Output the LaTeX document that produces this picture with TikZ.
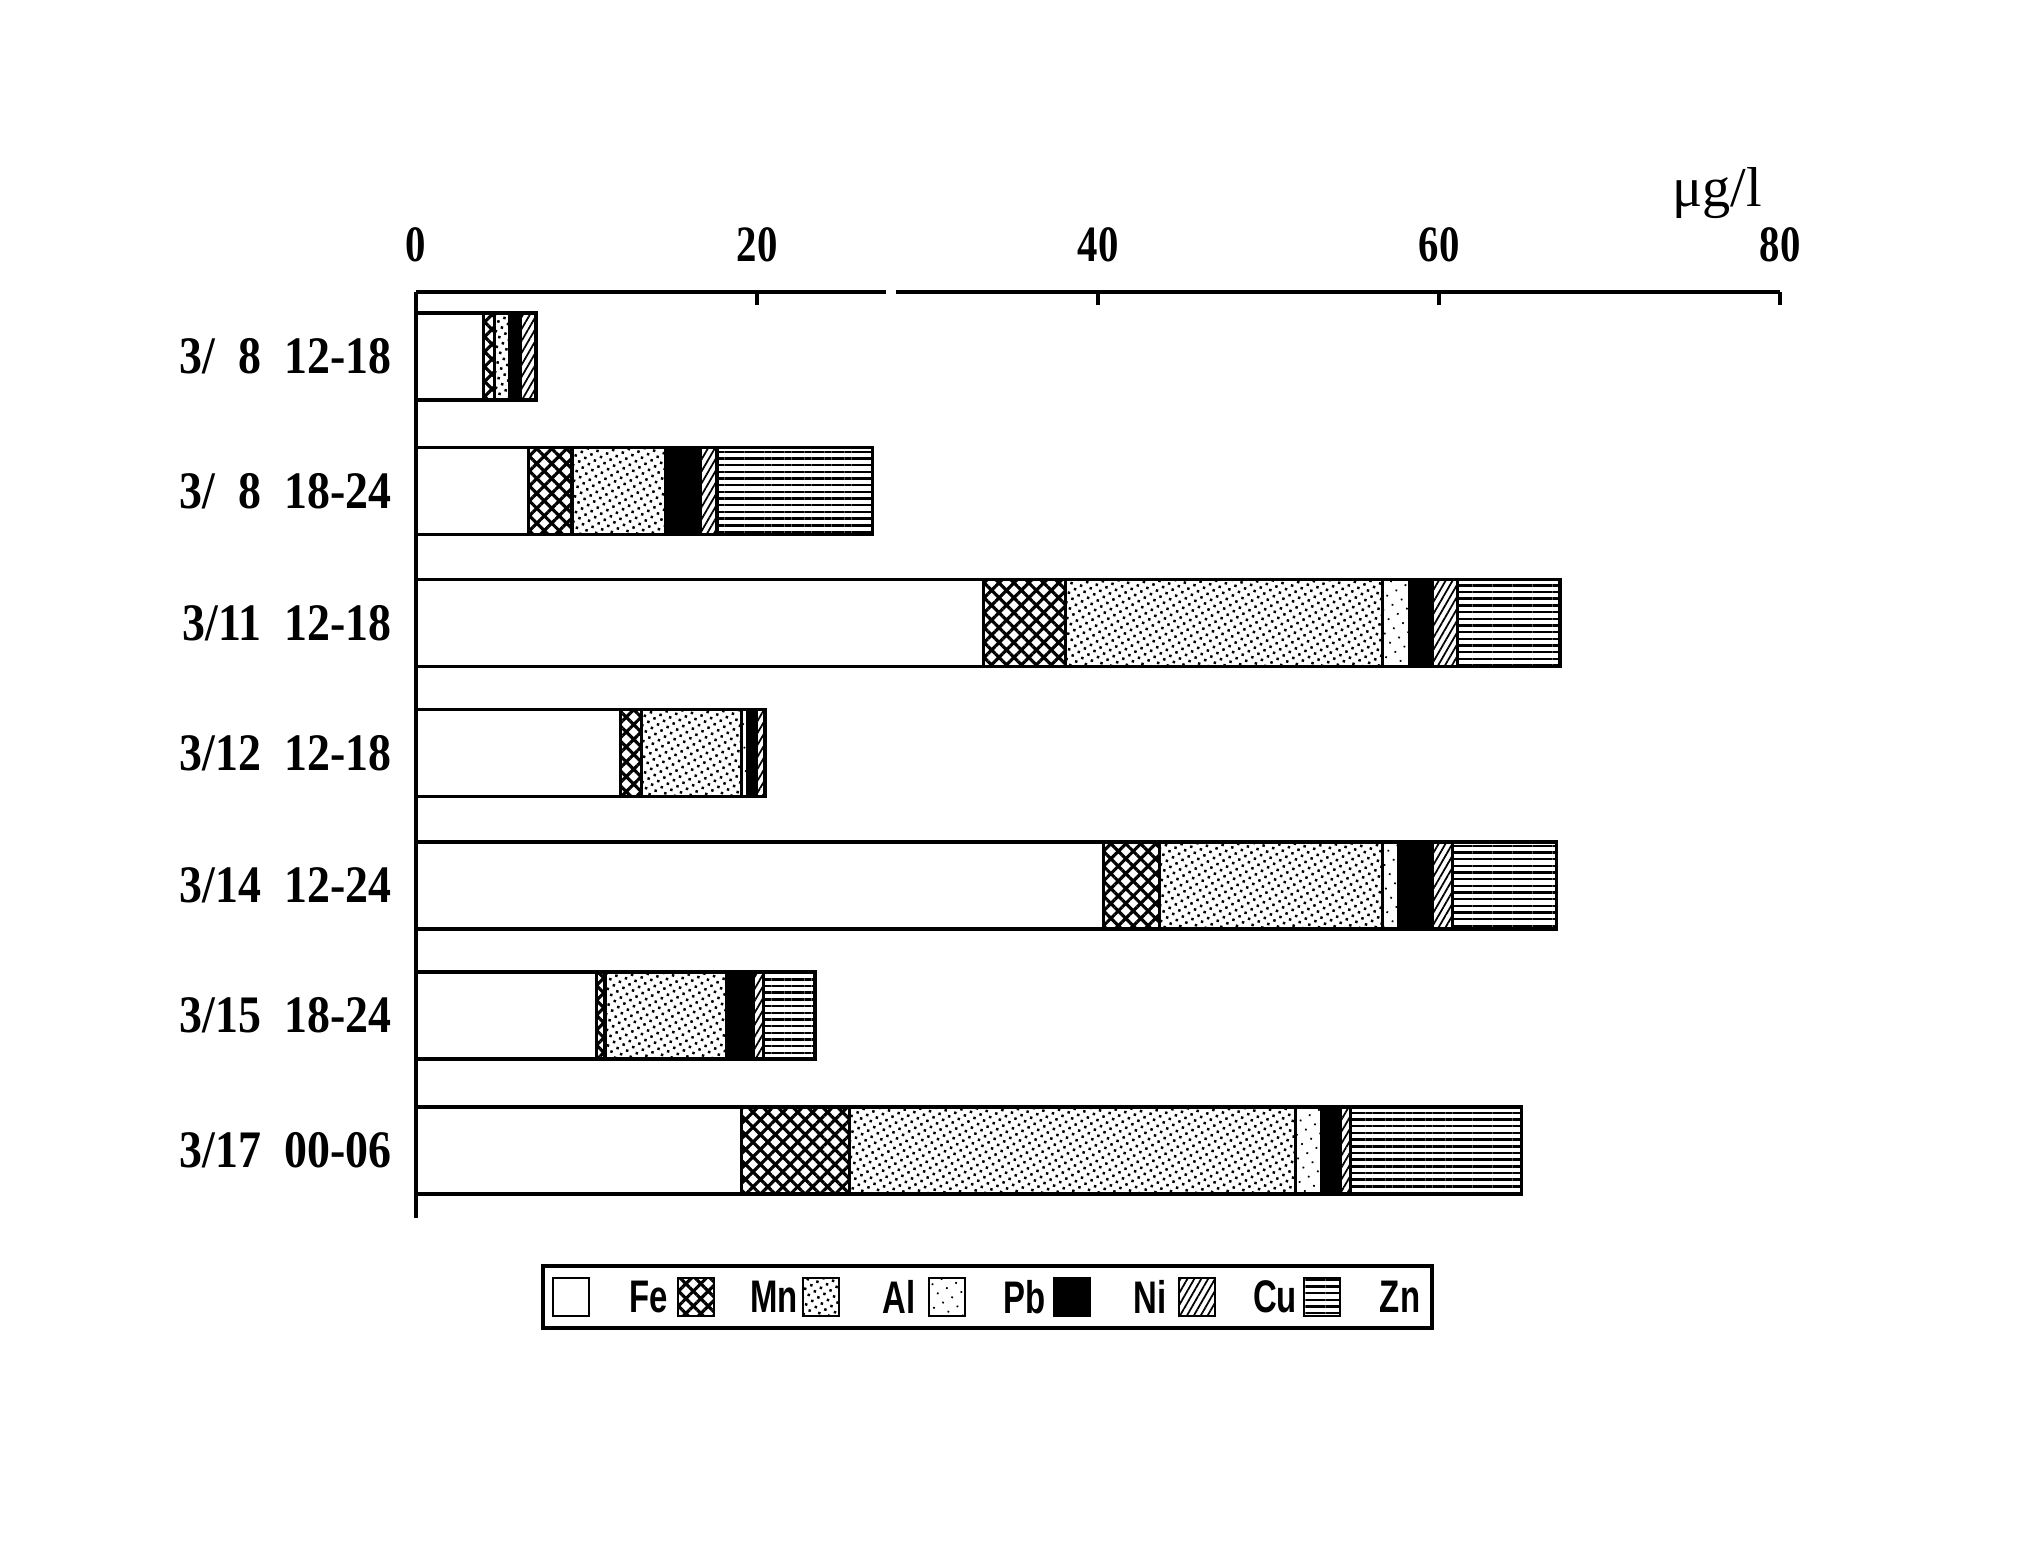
\documentclass[tikz,border=0pt]{standalone}
\usepackage{fontspec}
\usepackage{graphicx}
\setmainfont{Liberation Serif}
\newfontfamily\legendfont{Liberation Sans}
\usetikzlibrary{patterns.meta}
\def\condtext#1{\scalebox{0.8}[1]{#1}}
\def\rowtext#1{\scalebox{0.87}[1]{#1}}
\def\cell{\hspace{0.5em}}
\def\stackbar(#1)(#2,#3,#4,#5,#6,#7,#8){%
	\draw[fe] (0,#1-0.435) rectangle (#2,#1+0.435);
	\draw[mn] (#2,#1-0.435) rectangle (#3,#1+0.435);
	\draw[al] (#3,#1-0.435) rectangle (#4,#1+0.435);
	\draw[pb] (#4,#1-0.435) rectangle (#5,#1+0.435);
	\draw[ni] (#5,#1-0.435) rectangle (#6,#1+0.435);
	\draw[cu] (#6,#1-0.435) rectangle (#7,#1+0.435);
	\draw[zn] (#7,#1-0.435) rectangle (#8,#1+0.435);}
\tikzset{
	fe/.style={draw=black, line width=0.9pt, fill=white},
	mn/.style={draw=black, line width=0.9pt, pattern={Hatch[angle=45,distance=3pt,line width=0.9pt]}},
	al/.style={draw=black, line width=0.9pt, pattern={Dots[angle=30,distance=2pt,radius=0.5pt]}},
	pb/.style={draw=black, line width=0.9pt, pattern={Dots[angle=30,distance=3pt,radius=0.35pt]}},
	ni/.style={draw=black, line width=0.9pt, fill=black},
	cu/.style={draw=black, line width=0.9pt, pattern={Lines[angle=60,distance=1.7pt,line width=0.5pt]}},
	zn/.style={draw=black, line width=0.9pt, pattern={Lines[angle=0,distance=1.9pt,line width=0.7pt]}},
	axisline/.style={line width=1.1pt},
	ticklabel/.style={inner sep=0pt, font=\fontsize{14.5}{17}\selectfont\bfseries},
	rowlabel/.style={inner sep=0pt, anchor=east, font=\fontsize{15}{18}\selectfont\bfseries},
	keylabel/.style={inner sep=0pt, font=\fontsize{13}{15}\selectfont\legendfont\bfseries}
}

\begin{document}
\begin{tikzpicture}
		%%%%% START %%%%%
		\useasboundingbox (0,0) rectangle (20.43,15.67);
		
		\begin{scope}[shift={(4.16,0)}, x=0.1705cm]
			\draw[axisline] (0,12.75) -- (27.57,12.75);
			\draw[axisline] (28.15,12.75) -- (80,12.75);
			\draw[axisline] (0,12.75) -- (0,3.49);
			\draw[axisline] (20,12.75) -- (20,12.62);
			\draw[axisline] (40,12.75) -- (40,12.62);
			\draw[axisline] (60,12.75) -- (60,12.62);
			\draw[axisline] (80,12.75) -- (80,12.62);
			
			\node[ticklabel] (t0) at (0,13.22) {\condtext{0}};
			\node[ticklabel] (t20) at (20,13.22) {\condtext{20}};
			\node[ticklabel] (t40) at (40,13.22) {\condtext{40}};
			\node[ticklabel] (t60) at (60,13.22) {\condtext{60}};
			\node[ticklabel] (t80) at (80,13.22) {\condtext{80}};
			
			\stackbar(12.105)(3.95,4.59,5.51,5.51,6.14,7.04,7.04)
			\stackbar(10.76)(6.6,9.15,14.65,14.8,16.7,17.65,26.75)
			\stackbar(9.44)(33.3,38.1,56.7,58.3,59.6,61.1,67.1)
			\stackbar(8.14)(12.0,13.24,19.1,19.45,19.95,20.47,20.47)
			\stackbar(6.815)(40.3,43.6,56.7,57.65,59.6,60.8,66.9)
			\stackbar(5.515)(10.6,11.08,18.2,18.4,19.8,20.4,23.4)
			\stackbar(4.165)(19.08,25.4,51.6,53.1,54.2,54.8,64.85)
		\end{scope}
		
		\node[font=\fontsize{16}{19}\selectfont] (unit) at (17.17,13.74) {μg/l};
		
		\node[rowlabel] (d1) at (3.92,12.105) {\rowtext{3/\cell8\cell12-18}};
		\node[rowlabel] (d2) at (3.92,10.76) {\rowtext{3/\cell8\cell18-24}};
		\node[rowlabel] (d3) at (3.92,9.44) {\rowtext{3/11\cell12-18}};
		\node[rowlabel] (d4) at (3.92,8.14) {\rowtext{3/12\cell12-18}};
		\node[rowlabel] (d5) at (3.92,6.815) {\rowtext{3/14\cell12-24}};
		\node[rowlabel] (d6) at (3.92,5.515) {\rowtext{3/15\cell18-24}};
		\node[rowlabel] (d7) at (3.92,4.165) {\rowtext{3/17\cell00-06}};
		
		% legend
		\draw[line width=0.9pt] (5.43,2.39) rectangle (14.32,3.01);
		\draw[fe, line width=0.7pt] (5.53,2.51) rectangle (5.89,2.89);
		\draw[mn, line width=0.7pt] (6.78,2.51) rectangle (7.14,2.89);
		\draw[al, line width=0.7pt] (8.03,2.51) rectangle (8.39,2.89);
		\draw[pb, line width=0.7pt] (9.29,2.51) rectangle (9.65,2.89);
		\draw[ni, line width=0.7pt] (10.54,2.51) rectangle (10.90,2.89);
		\draw[cu, line width=0.7pt] (11.79,2.51) rectangle (12.15,2.89);
		\draw[zn, line width=0.7pt] (13.04,2.51) rectangle (13.40,2.89);
		\node[keylabel] (kfe) at (6.49,2.70) {\scalebox{0.72}[1]{Fe}};
		\node[keylabel] (kmn) at (7.74,2.70) {\scalebox{0.72}[1]{Mn}};
		\node[keylabel] (kal) at (8.99,2.70) {\scalebox{0.72}[1]{Al}};
		\node[keylabel] (kpb) at (10.25,2.70) {\scalebox{0.72}[1]{Pb}};
		\node[keylabel] (kni) at (11.50,2.70) {\scalebox{0.72}[1]{Ni}};
		\node[keylabel] (kcu) at (12.75,2.70) {\scalebox{0.72}[1]{Cu}};
		\node[keylabel] (kzn) at (14.00,2.70) {\scalebox{0.72}[1]{Zn}};
		%%%%% END %%%%%
\end{tikzpicture}
\end{document}
